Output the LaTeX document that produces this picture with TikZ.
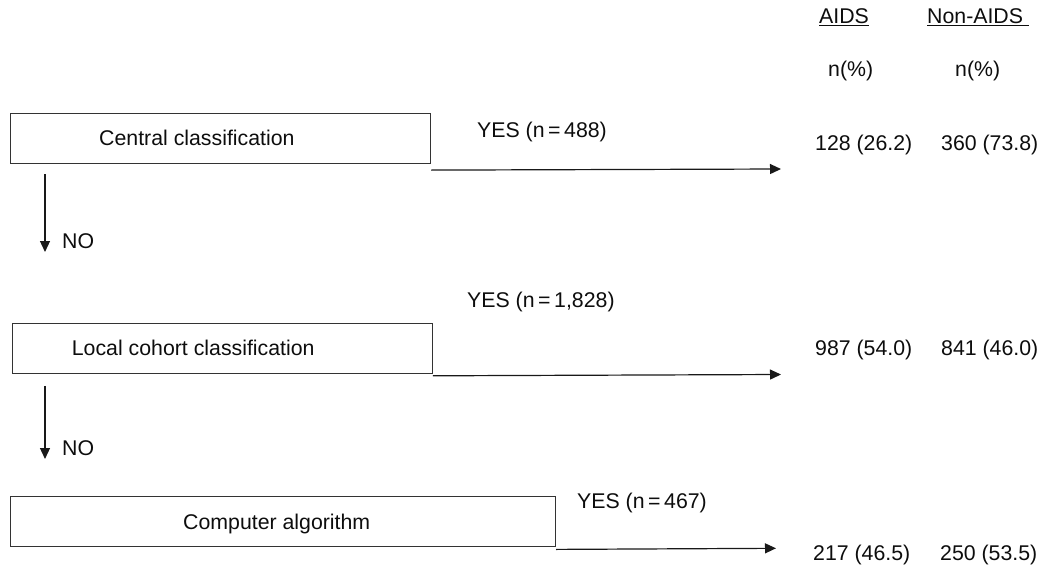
\documentclass[tikz,border=0pt]{standalone}
\usepackage{fontspec}
\setmainfont{Liberation Sans}
\usetikzlibrary{arrows.meta}

\begin{document}
\begin{tikzpicture}[x=1pt,y=-1pt,
        box/.style={draw=black!80,line width=1.1pt,anchor=north west,
                    minimum height=50pt,inner sep=0pt},
        txt/.style={anchor=base west,inner sep=0pt,text=black!95,
                    font=\fontsize{21.3}{25}\selectfont},
        flow/.style={draw=black!90,line width=1.2pt,
                     -{Triangle[length=11pt,width=10pt]}}]

        \useasboundingbox (0,0) rectangle (1045,565);

        % column heads
        \node[txt]  (aids)      at (819,23.5)   {\underline{AIDS}};
        \node[txt]  (nonaids)   at (927,23.5)   {\underline{Non-AIDS\ }};
        \node[txt]  (pctA)      at (828,76)     {n(\%)};
        \node[txt]  (pctB)      at (955,76)     {n(\%)};

        % classification steps
        \node[box,minimum width=420pt]  (central)   at (10,113)     {};
        \node[txt]  (centralTxt)    at (99,145.7)   {Central classification};
        \node[box,minimum width=420pt]  (local)     at (11.7,322.7) {};
        \node[txt]  (localTxt)      at (71.7,355)   {Local cohort classification};
        \node[box,minimum width=545pt]  (algo)      at (10,496)     {};
        \node[txt]  (algoTxt)       at (183,529)    {Computer algorithm};

        % yes branches
        \node[txt]  (yes1)  at (477,137.5)  {YES (n\,=\,488)};
        \node[txt]  (yes2)  at (467,307.5)  {YES (n\,=\,1,828)};
        \node[txt]  (yes3)  at (577,508.3)  {YES (n\,=\,467)};
        \coordinate (yes1end) at (781,169);
        \coordinate (yes2end) at (781,374.5);
        \coordinate (yes3end) at (776,548.3);

        % no branches
        \node[txt]  (no1)   at (62,248)     {NO};
        \node[txt]  (no2)   at (62,455)     {NO};
        \coordinate (no1end) at (45,252);
        \coordinate (no2end) at (45,459);

        % counts
        \node[txt]  (aids1)     at (815,150)    {128 (26.2)};
        \node[txt]  (non1)      at (941,150)    {360 (73.8)};
        \node[txt]  (aids2)     at (815,355)    {987 (54.0)};
        \node[txt]  (non2)      at (941,355)    {841 (46.0)};
        \node[txt]  (aids3)     at (813,560)    {217 (46.5)};
        \node[txt]  (non3)      at (940,560)    {250 (53.5)};

        \draw[flow] ([yshift=-6pt]central.south east) -- (yes1end);
        \draw[flow] ([yshift=-2pt]local.south east) -- (yes2end);
        \draw[flow] ([yshift=-2.3pt]algo.south east) -- (yes3end);
        \draw[flow] ([xshift=35pt,yshift=-10pt]central.south west) -- (no1end);
        \draw[flow] ([xshift=33.3pt,yshift=-12pt]local.south west) -- (no2end);

\end{tikzpicture}
\end{document}
